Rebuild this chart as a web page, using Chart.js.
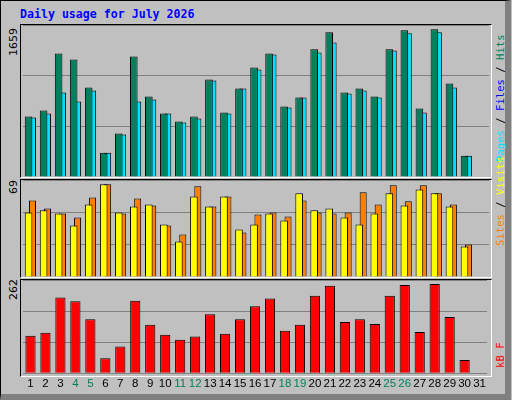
<!DOCTYPE html>
<html><head><meta charset="utf-8">
<script src="https://cdn.jsdelivr.net/npm/chart.js@4"></script>
<style>
body{margin:0;background:#c0c0c0;}
#frame{position:absolute;left:0;top:0;width:504px;height:393px;background:#c0c0c0;border-top:1px solid #000;border-left:1px solid #000;border-right:6px solid #808080;border-bottom:6px solid #808080;}
.box{position:absolute;border-top:1px solid #000;border-left:1px solid #000;border-right:1px solid #fff;border-bottom:1px solid #fff;}
.c{position:absolute;}
.rot{position:absolute;transform:rotate(-90deg);transform-origin:left top;white-space:nowrap;font-family:"DejaVu Sans Mono",monospace;font-size:11px;line-height:12px;}
#title{position:absolute;left:20px;top:7px;color:#0000ff;font:bold 11.6px "DejaVu Sans Mono",monospace;}
</style></head><body>
<div id="frame"></div>
<div id="title">Daily usage for July 2026</div>
<div class="box" style="left:20px;top:24px;width:470px;height:152px"></div>
<div class="box" style="left:20px;top:179px;width:470px;height:97px"></div>
<div class="box" style="left:20px;top:279px;width:470px;height:96px"></div>
<div class="rot" style="left:8px;top:56px;font-family:'DejaVu Sans',sans-serif;font-size:11px">1659</div>
<div class="rot" style="left:8px;top:194px;font-family:'DejaVu Sans',sans-serif;font-size:11px">69</div>
<div class="rot" style="left:8px;top:300px;font-family:'DejaVu Sans',sans-serif;font-size:11px">262</div>
<div class="rot" style="left:494px;top:162px;font-size:10.6px"><span style="color:#00e0ff">Pages</span> / <span style="color:#0000ff">Files</span> / <span style="color:#00805c">Hits</span></div>
<div class="rot" style="left:494px;top:246px;font-size:10.6px"><span style="color:#ff8000">Sites</span> / <span style="color:#ffff00">Visits</span></div>
<div class="rot" style="left:494px;top:368px;color:#ff0000;font-size:10.6px">kB F</div>
<canvas id="c1" class="c" style="left:21px;top:25px;width:469px;height:152px" width="469" height="152"></canvas>
<canvas id="c2" class="c" style="left:21px;top:180px;width:469px;height:97px" width="469" height="97"></canvas>
<canvas id="c3" class="c" style="left:21px;top:280px;width:469px;height:120px" width="469" height="120"></canvas>
<script>
const days=Array.from({length:31},(_,i)=>String(i+1));
const weekend=[4,5,11,12,18,19,25,26];
const hits=[660,726,1349,1283,977,266,474,1316,879,693,605,660,1065,704,966,1196,1349,769,868,1393,1579,922,966,879,1393,1601,747,1612,1021,233,null];
const files=[649,693,922,824,944,266,463,824,846,693,594,638,1054,693,966,1174,1338,758,868,1360,1469,912,944,868,1382,1568,704,1579,977,233,null];
const visits=[45.9,47.4,45.2,36.6,51.6,65.9,45.9,50.2,51.6,37.4,25.2,57.3,50.2,57.3,33.8,37.4,45.2,40.2,59.5,47.4,48.8,42.4,37.4,45.2,59.5,50.9,62.3,59.5,50.2,21.7,null];
const sites=[54.5,48.8,45.2,42.4,56.6,65.9,45.2,55.9,50.9,36.6,30.2,64.5,50.2,57.3,31.6,44.5,45.9,43.1,54.5,45.9,45.2,45.9,60.2,51.6,65.2,53.8,65.2,59.5,51.6,23.1,null];
const kbytes=[105,114,213,202,152,42,75,204,136,108,94,103,166,111,152,188,210,119,136,218,246,144,152,138,218,248,116,251,158,37,null];
const maxHits=1659, maxVisits=69, maxKB=262;

function opts(max, showX){
  return {responsive:false,animation:false,
    layout:{padding:{left:2,right:1,top:0,bottom:showX?5:0}},
    plugins:{legend:{display:false},tooltip:{enabled:false}},
    scales:{
      x:{display:showX,grid:{display:false,drawTicks:false},border:{display:false},
         ticks:{padding:4,font:{family:'Liberation Sans',size:11.5},autoSkip:false,maxRotation:0,
           color:c=>weekend.includes(c.index+1)?'#00805c':'#000'}},
      y:{min:0,max:max,grid:{color:'#808080',drawTicks:false},border:{display:false},
         ticks:{display:false,stepSize:max/3}}
    }};
}
function ds(data,color,cp,bp){return {data,backgroundColor:color,borderColor:'#000',borderWidth:1,categoryPercentage:cp,barPercentage:bp};}
new Chart(document.getElementById('c1'),{type:'bar',data:{labels:days,datasets:[ds(hits,'#00805c',0.52,1.95),ds(files,'#00e0ff',0.52,1.8)]},options:opts(maxHits,false)});
new Chart(document.getElementById('c2'),{type:'bar',data:{labels:days,datasets:[ds(visits,'#ffff00',0.52,1.95),ds(sites,'#ff8000',0.52,1.8)]},options:opts(maxVisits,false)});
new Chart(document.getElementById('c3'),{type:'bar',data:{labels:days,datasets:[ds(kbytes,'#ff0000',0.68,1)]},options:opts(maxKB,true)});
</script></body></html>
